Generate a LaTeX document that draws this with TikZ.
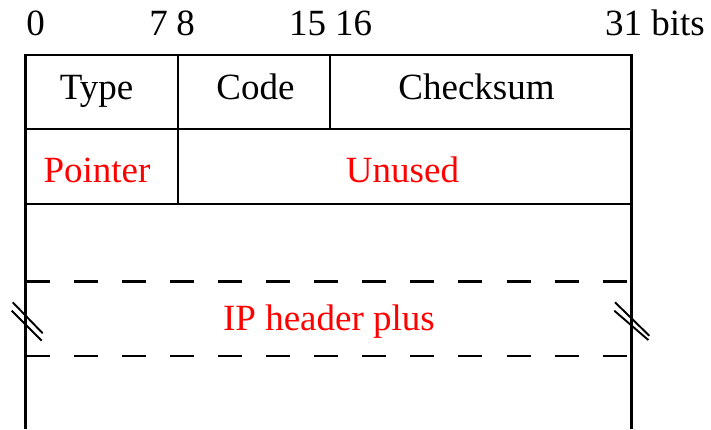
\documentclass[tikz,border=0pt]{standalone}
\usepackage{fontspec}
\setmainfont{Liberation Serif}
\begin{document}
\begin{tikzpicture}[x=1pt,y=-1pt,
  frame/.style={line width=2.6pt,line cap=rect},
  sep/.style={line width=2.6pt},
  dsh/.style={line width=2.6pt,dash pattern=on 24pt off 24.1pt},
  brk/.style={line width=1.9pt},
  lbl/.style={inner sep=0pt,anchor=base,font=\fontsize{37}{40}\selectfont},
  red lbl/.style={lbl,text=red}]
\useasboundingbox (0,0) rectangle (711,429);
% grid coordinates
\coordinate (tl) at (25.5,55);
\coordinate (tr) at (631.5,55);
\coordinate (bl) at (25.5,429);
\coordinate (br) at (631.5,429);
\coordinate (r1l) at (25.5,129);
\coordinate (r1r) at (631.5,129);
\coordinate (r2l) at (25.5,204);
\coordinate (r2r) at (631.5,204);
\coordinate (d1l) at (25.5,281.5);
\coordinate (d1r) at (631.5,281.5);
\coordinate (d2l) at (25.5,356);
\coordinate (d2r) at (631.5,356);
\coordinate (v1t) at (178,55);
\coordinate (v1b) at (178,204);
\coordinate (v2t) at (330,55);
\coordinate (v2b) at (330,129);
% frame
\draw[sep] (bl) -- (tl) -- (tr) -- (br);
\draw[sep] (r1l) -- (r1r);
\draw[sep] (r2l) -- (r2r);
\draw[sep] (v1t) -- (v1b);
\draw[sep] (v2t) -- (v2b);
\draw[dsh] (d1l) -- (d1r);
\draw[dsh] (d2l) -- (d2r);
% break marks
\coordinate (la1) at (12.7,302.3); \coordinate (lb1) at (42.7,333.3);
\coordinate (la2) at (11.7,310.7); \coordinate (lb2) at (41.7,340.7);
\coordinate (ra1) at (615,302.3); \coordinate (rb1) at (649.3,335.7);
\coordinate (ra2) at (614.3,310.7); \coordinate (rb2) at (648.3,340);
\draw[brk] (la1) -- (lb1);
\draw[brk] (la2) -- (lb2);
\draw[brk] (ra1) -- (rb1);
\draw[brk] (ra2) -- (rb2);
% bit labels
\node[lbl] (b0) at (35.5,35) {0};
\node[lbl] (b7) at (158.5,35) {7};
\node[lbl] (b8) at (185.5,35) {8};
\node[lbl] (b15) at (307.5,35) {15};
\node[lbl] (b16) at (353.5,35) {16};
\node[lbl] (b31) at (655,35) {31 bits};
% field labels
\node[lbl] (type) at (96.5,99) {Type};
\node[lbl] (code) at (255.5,99) {Code};
\node[lbl] (chk) at (476.5,99) {Checksum};
\node[red lbl] (ptr) at (97,182) {Pointer};
\node[red lbl] (unused) at (402.5,182) {Unused};
\node[red lbl] (ip) at (329,330) {IP header plus};
\end{tikzpicture}
\end{document}
